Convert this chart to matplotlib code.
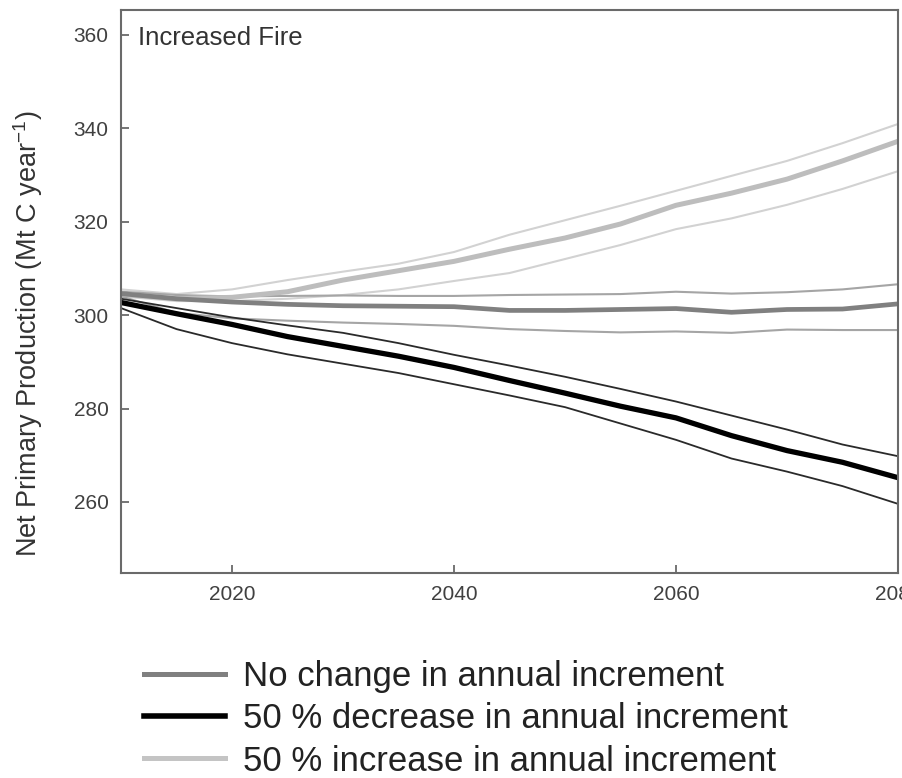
import matplotlib
matplotlib.use("Agg")
import matplotlib.pyplot as plt

plt.rcParams['font.family'] = ['Liberation Sans', 'DejaVu Sans']
plt.rcParams['mathtext.fontset'] = 'custom'
plt.rcParams['mathtext.rm'] = 'Liberation Sans'
plt.rcParams['mathtext.default'] = 'regular'

# years (5-year steps) (Mt C / year)
years = [2010, 2015, 2020, 2025, 2030, 2035, 2040, 2045, 2050, 2055, 2060, 2065, 2070, 2075, 2080]

# no change in annual increment
nochg_mean = [304.6, 303.5, 302.8, 302.3, 302.0, 301.9, 301.8, 301.0, 301.0, 301.2, 301.4, 300.6, 301.2, 301.3, 302.4]
nochg_hi = [305.0, 304.3, 304.0, 304.1, 304.2, 304.1, 304.1, 304.3, 304.4, 304.5, 305.0, 304.6, 304.9, 305.5, 306.6]
nochg_lo = [304.0, 300.5, 299.3, 298.8, 298.4, 298.1, 297.7, 297.0, 296.6, 296.3, 296.5, 296.2, 296.9, 296.8, 296.8]

# 50 % decrease
dec_mean = [302.7, 300.3, 298.0, 295.4, 293.3, 291.2, 288.8, 286.0, 283.3, 280.5, 278.0, 274.2, 271.0, 268.5, 265.2]
dec_hi = [303.5, 301.5, 299.5, 297.8, 296.2, 294.0, 291.5, 289.2, 286.8, 284.2, 281.5, 278.5, 275.5, 272.3, 269.8]
dec_lo = [301.5, 297.0, 294.0, 291.6, 289.6, 287.6, 285.2, 282.8, 280.3, 276.8, 273.3, 269.3, 266.5, 263.4, 259.6]

# 50 % increase
inc_mean = [304.5, 303.5, 303.8, 305.0, 307.5, 309.5, 311.5, 314.1, 316.5, 319.5, 323.5, 326.1, 329.1, 333.0, 337.2]
inc_hi = [305.5, 304.5, 305.5, 307.5, 309.3, 311.0, 313.5, 317.2, 320.3, 323.4, 326.6, 329.8, 333.0, 336.8, 340.9]
inc_lo = [304.0, 303.0, 303.0, 303.5, 304.3, 305.5, 307.3, 309.0, 312.0, 315.0, 318.4, 320.7, 323.6, 327.0, 330.8]

labels = ['No change in annual increment',
          '50 % decrease in annual increment',
          '50 % increase in annual increment']

fig = plt.figure(figsize=(9.03, 7.78), dpi=100)
ax = fig.add_axes([121 / 903, 1 - 573 / 778, 777 / 903, 563 / 778])

# bounds (thin) first, means on top
ax.plot(years, inc_hi, color='#d2d2d2', lw=1.5)
ax.plot(years, inc_lo, color='#d2d2d2', lw=1.5)
ax.plot(years, nochg_hi, color='#a5a5a5', lw=1.5)
ax.plot(years, nochg_lo, color='#a5a5a5', lw=1.5)
ax.plot(years, dec_hi, color='#2a2a2a', lw=1.3)
ax.plot(years, dec_lo, color='#2a2a2a', lw=1.3)

ax.plot(years, inc_mean, color='#bdbdbd', lw=3.6)
ax.plot(years, nochg_mean, color='#808080', lw=3.4)
ax.plot(years, dec_mean, color='black', lw=3.8)

ax.set_xlim(2010, 2080)
ax.set_ylim(244.8, 365.3)
ax.set_xticks([2020, 2040, 2060, 2080])
ax.set_yticks([260, 280, 300, 320, 340, 360])

for s in ax.spines.values():
    s.set_color('#6a6a6a')
    s.set_linewidth(1.5)
ax.tick_params(direction='in', length=6, width=1.3, color='#6a6a6a',
               labelsize=15, labelcolor='#404040', pad=9)

ax.set_ylabel('Net Primary Production (Mt C year$^{-1}$)', fontsize=19.5,
              color='#333333')
ax.yaxis.set_label_coords(-0.098, 0.4245)
ax.text(17 / 777, 1 - 16 / 563, 'Increased Fire', transform=ax.transAxes,
        fontsize=18.5, color='#333333', va='top', ha='left')

# legend below the axes
h_no = plt.Line2D([], [], color='#808080', lw=3.6)
h_dec = plt.Line2D([], [], color='black', lw=4)
h_inc = plt.Line2D([], [], color='#c4c4c4', lw=3.6)
fig.legend([h_no, h_dec, h_inc], labels, loc='upper left',
           bbox_to_anchor=(130 / 903, 1 - 646 / 778), frameon=False,
           fontsize=25, handlelength=2.35, handletextpad=0.5,
           labelspacing=0.27, borderaxespad=0, labelcolor='#222222')

fig.savefig('out.png', dpi=100)
